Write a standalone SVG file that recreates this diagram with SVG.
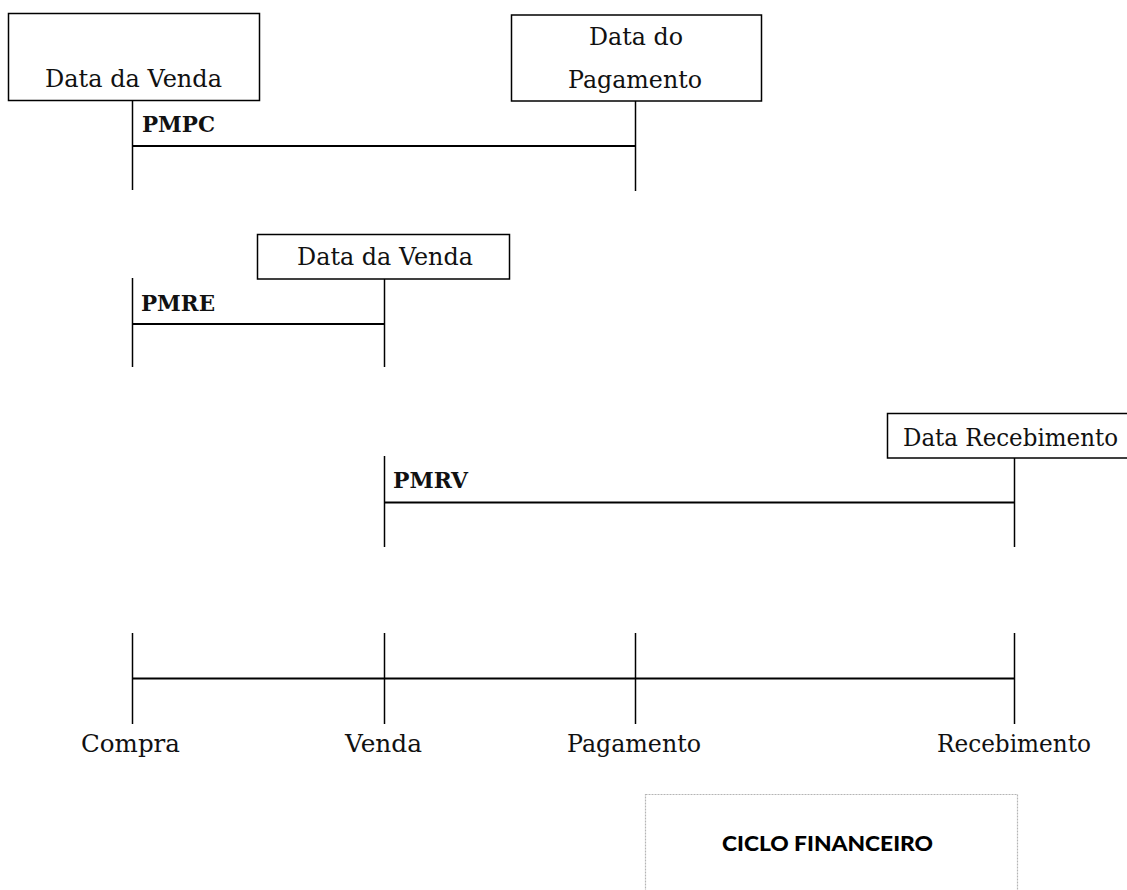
<svg xmlns="http://www.w3.org/2000/svg" width="1127" height="890" viewBox="0 0 1127 890">
<style>
.box{fill:#fff;stroke:#000;stroke-width:1.5}
.t{font-family:"DejaVu Serif","Liberation Serif",serif;font-size:23.5px;fill:#111}
.b{font-family:"DejaVu Serif","Liberation Serif",serif;font-size:22px;font-weight:bold;fill:#111}
.h{stroke:#000;stroke-width:2;fill:none}
.v{stroke:#000;stroke-width:1.5;fill:none}
.cf{font-family:Lato,"Liberation Sans",Arial,sans-serif;font-size:20px;font-weight:900;fill:#000}
</style>
<rect width="1127" height="890" fill="#fff"/>
<g id="connectors">
  <line class="v" x1="132.5" y1="100" x2="132.5" y2="190"/>
  <line class="v" x1="635.5" y1="101" x2="635.5" y2="191"/>
  <line class="h" x1="132" y1="146" x2="636" y2="146"/>
  <line class="v" x1="132.5" y1="278" x2="132.5" y2="367"/>
  <line class="v" x1="384.5" y1="279" x2="384.5" y2="367"/>
  <line class="h" x1="132" y1="324" x2="385" y2="324"/>
  <line class="v" x1="384.5" y1="456" x2="384.5" y2="547"/>
  <line class="v" x1="1014.5" y1="458" x2="1014.5" y2="547"/>
  <line class="h" x1="384" y1="502.5" x2="1015" y2="502.5"/>
  <line class="h" x1="132" y1="678.5" x2="1015" y2="678.5"/>
  <line class="v" x1="132.5" y1="633" x2="132.5" y2="724"/>
  <line class="v" x1="384.5" y1="633" x2="384.5" y2="724"/>
  <line class="v" x1="635.5" y1="633" x2="635.5" y2="724"/>
  <line class="v" x1="1014.5" y1="633" x2="1014.5" y2="724"/>
</g>
<g id="box-venda-1">
  <rect class="box" x="8.5" y="13.5" width="251" height="87"/>
  <text class="t" x="45" y="87" textLength="177" lengthAdjust="spacingAndGlyphs">Data da Venda</text>
</g>
<g id="box-pagamento">
  <rect class="box" x="511.5" y="15" width="250" height="86"/>
  <text class="t" x="589" y="45" textLength="94" lengthAdjust="spacingAndGlyphs">Data do</text>
  <text class="t" x="568" y="88" textLength="134" lengthAdjust="spacingAndGlyphs">Pagamento</text>
</g>
<g id="box-venda-2">
  <rect class="box" x="257.5" y="234.5" width="252" height="44.5"/>
  <text class="t" x="297" y="265" textLength="176" lengthAdjust="spacingAndGlyphs">Data da Venda</text>
</g>
<g id="box-recebimento">
  <rect class="box" x="887.5" y="413.5" width="250" height="44.5"/>
  <text class="t" x="903" y="446" textLength="215" lengthAdjust="spacingAndGlyphs">Data Recebimento</text>
</g>
<g id="label-pmpc"><text class="b" x="142" y="132" textLength="73" lengthAdjust="spacingAndGlyphs">PMPC</text></g>
<g id="label-pmre"><text class="b" x="141" y="311" textLength="74" lengthAdjust="spacingAndGlyphs">PMRE</text></g>
<g id="label-pmrv"><text class="b" x="393" y="488" textLength="75" lengthAdjust="spacingAndGlyphs">PMRV</text></g>
<g id="label-compra"><text class="t" x="81" y="752" textLength="99" lengthAdjust="spacingAndGlyphs">Compra</text></g>
<g id="label-venda"><text class="t" x="345" y="752" textLength="77" lengthAdjust="spacingAndGlyphs">Venda</text></g>
<g id="label-pagamento"><text class="t" x="567" y="752" textLength="134" lengthAdjust="spacingAndGlyphs">Pagamento</text></g>
<g id="label-recebimento"><text class="t" x="937" y="752" textLength="154" lengthAdjust="spacingAndGlyphs">Recebimento</text></g>
<g id="box-ciclo">
  <rect x="645.5" y="794.5" width="372" height="110" fill="#fff" stroke="#b5b5b5" stroke-width="1.2" stroke-dasharray="2 1"/>
  <text class="cf" x="722" y="851" textLength="211" lengthAdjust="spacingAndGlyphs">CICLO FINANCEIRO</text>
</g>
</svg>
